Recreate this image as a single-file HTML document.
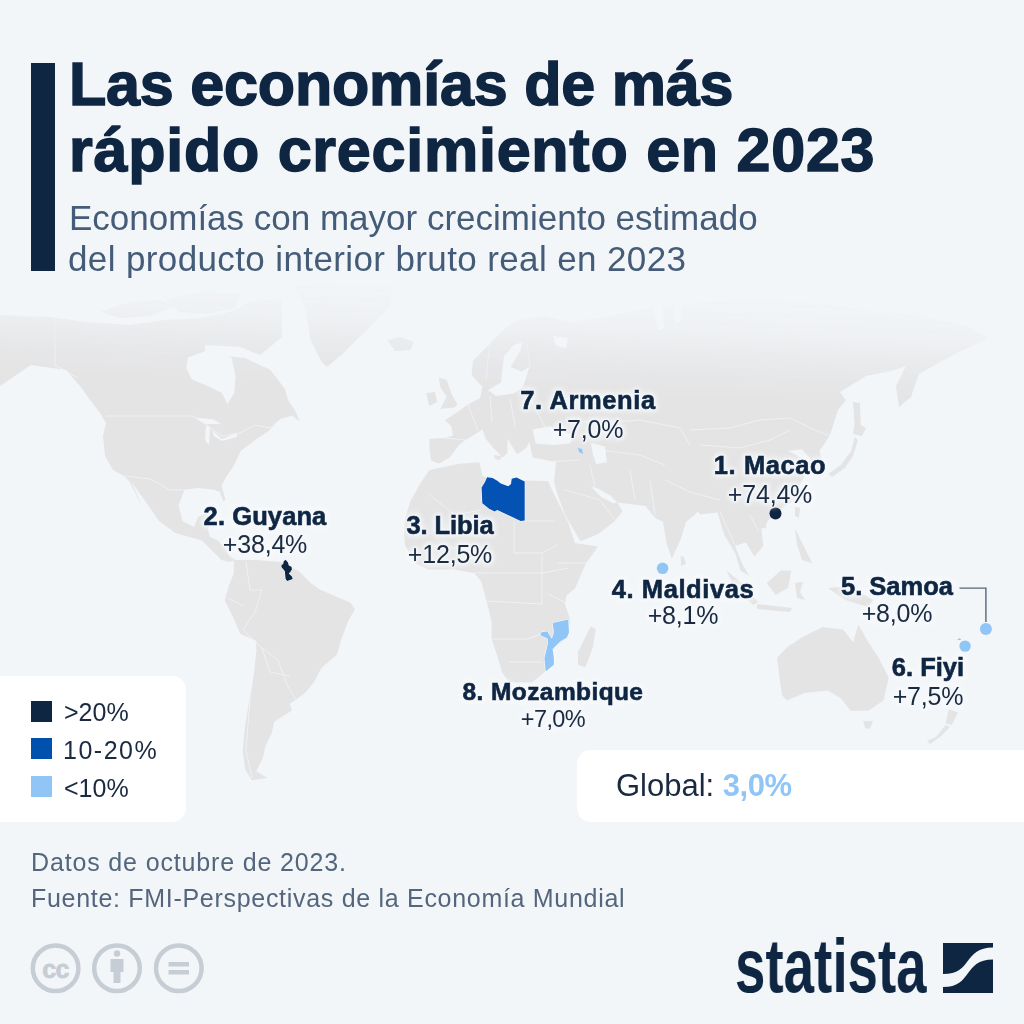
<!DOCTYPE html>
<html><head><meta charset="utf-8">
<style>
html,body{margin:0;padding:0}
body{width:1024px;height:1024px;overflow:hidden;background:#f3f6f9;position:relative;font-family:"Liberation Sans",sans-serif;-webkit-font-smoothing:antialiased}
.t{will-change:transform}
.t{position:absolute;white-space:nowrap;line-height:1}
.c{transform:translateX(-50%);text-align:center}
.title{font-weight:bold;font-size:61px;color:#0f2642;-webkit-text-stroke:1.5px #0f2642}
.sub{font-size:35px;color:#455c79}
.lb{font-weight:bold;font-size:25.5px;color:#0f2642;-webkit-text-stroke:0.6px #0f2642}
.pc{font-size:25px;color:#1a2a40}
.halo{text-shadow:0 0 2px #f3f6f9,0 0 2px #f3f6f9,0 0 3px #f3f6f9,0 0 3px #f3f6f9,0 0 5px #f3f6f9,0 0 5px #f3f6f9,0 0 7px #f3f6f9,0 0 9px #f3f6f9}
.lg{font-size:25px;color:#1a2a40}
.sq{position:absolute;left:31px;width:21px;height:21px}
.ft{font-size:25px;color:#54667e}
#map{position:absolute;left:0;top:0}
</style></head><body>
<svg id="map" width="1024" height="1024" viewBox="0 0 1024 1024">
<defs>
<linearGradient id="fade" x1="560" y1="288" x2="556" y2="393" gradientUnits="userSpaceOnUse">
<stop offset="0" stop-color="#fff" stop-opacity="0"/>
<stop offset="0.33" stop-color="#fff" stop-opacity="0.25"/>
<stop offset="0.57" stop-color="#fff" stop-opacity="0.6"/>
<stop offset="0.81" stop-color="#fff" stop-opacity="0.9"/>
<stop offset="1" stop-color="#fff" stop-opacity="1"/>
</linearGradient>
<mask id="m"><rect x="0" y="0" width="1024" height="1024" fill="url(#fade)"/></mask>
</defs>
<g mask="url(#m)" fill="#e4e4e5">
<path d="M0,315 L50,317 L85,322 L130,325 L165,320 L200,318 L230,312 L250,302 L282,298 L282,337 L259,356 L265,363 L285,389 L288,400 L295.8,411.7 L299.7,421.5 L291.9,415.6 L280,419.5 L268.4,431.25 L256.7,439 L241,450.8 L233.3,466.4 L225.5,478 L221.6,486 L225.5,499.6 L223.5,501.6 L219.6,491.8 L213.75,489.8 L198,488 L184.5,489.8 L178.6,505.5 L182.5,521 L194.2,527 L198,517 L206,513.3 L211.8,517 L207.9,529 L209.8,536.7 L217.7,540.6 L225.5,548.4 L229.4,556 L235.2,560 L229.4,562 L221.6,560 L213.75,552.3 L202,540.6 L188.4,536.7 L174.7,532.8 L159,521 L145.4,501.6 L131.7,482 L143.4,509.4 L129.8,482 L124,476 L113,470 L105,456 L103,436 L106,423 L100,413 L90,400 L80,386 L66,370 L31,365 L0,386Z"/>
<path d="M100,312 L130,302 L160,300 L175,306 L150,316 L120,318Z"/>
<path d="M165,300 L200,292 L240,294 L235,308 L205,314 L180,312Z"/>
<path d="M294,285 L392.5,285 L389.8,307 L370.6,326 L343,353.4 L327,367 L321.4,361.6 L310.5,339.7 L305,307Z"/>
<path d="M387,340 L400,337 L414,342 L410,350 L395,351Z"/>
<path d="M233.7,560 L256,560 L281,562 L299,571 L310,582.5 L319,589 L334.8,596 L350.6,602.7 L355,609.4 L348.3,620.7 L341.6,638.7 L337,654.4 L321.3,667.9 L314.6,681.3 L305.6,692.6 L296.6,699.3 L289.9,703.8 L292,710.6 L281,717.3 L274.2,721.8 L271.9,733 L265.2,746.5 L263,757.8 L256.2,771.2 L267.4,778 L251.7,780.2 L245,769 L242.7,751 L245,726.3 L249.4,699.3 L254,672.4 L256.2,650 L256.2,640.9 L240.4,634 L231.5,614 L224.7,600.4 L229.2,584.7 L233.7,573.5Z"/>
<path d="M431,460.6 L429.4,448 L429.4,438.75 L445,438 L452.8,435.6 L451.25,426.25 L445,420 L457.5,412 L467,405 L480,398 L482.5,387 L477,381 L471.6,374.7 L473,360.6 L485.6,348 L498,335.6 L507.5,326.3 L520,320 L545,316 L570,322 L600,318 L640,310 L700,303 L764,298 L815,303 L866,310 L916,315 L967,326 L988,338 L972,346 L957,353 L942,361 L919,374 L911,397 L899,407 L896,386 L906,366 L891,371 L866,376 L840,392 L846,400 L838,410 L830,435 L826.6,440.5 L819.5,451 L823,465 L819.5,474 L812.5,461.6 L802,449.3 L788,451 L795,454.6 L805.5,460 L807.2,470.4 L798.4,488 L795,500.3 L782.6,507.3 L773.8,514.4 L761.5,528.4 L763.3,546 L754.5,556.6 L745.7,542.5 L735,546 L742.2,563.6 L749.2,576 L740.4,570.6 L735.2,553 L724.6,535.5 L721,525 L717.6,512.6 L700,514.4 L698.2,511.4 L686,522 L680.6,539.5 L671.8,558.9 L666.6,543 L663,522 L656,518.4 L652.5,515 L645.5,506 L617.3,502.6 L622.6,511.4 L613.8,522 L598,534.3 L580.4,541.3 L565,515 L556,490 L554,481.5 L556,462 L532.5,457.5 L529.4,442 L526.25,448 L516.9,454.4 L507.5,438.75 L507.5,452.8 L502.8,457.5 L493.4,448 L485.6,438.75 L482.5,429.4 L465.3,440.3 L459,445 L449.7,457.5 L438.75,463.75Z"/>
<path d="M438.75,377.8 L446.6,379.4 L451.25,393.4 L457.5,404.4 L454.4,407.5 L440.3,409 L446.6,396.6 L440.3,387Z"/>
<path d="M426.25,393 L435,391.9 L437.2,402 L429,406Z"/>
<path d="M494,455 L502,456 L500,460 L495,459Z"/>
<path d="M429.4,470 L459,463.75 L479.4,462.2 L482.5,476 L499,483 L510,487 L512,479 L525,480.5 L548,481 L552,490 L568,522 L575,543 L598,546.6 L585.7,564 L575,588.6 L566.4,595.8 L565,604 L570,619 L568,637 L555,647 L547,662 L545,672 L532,682.5 L509,682.5 L502,672 L497,655 L491.6,639 L491.6,621.6 L486.5,601 L481,581 L474,573 L453.5,569.5 L428,569.5 L415,563 L405,545 L404,534 L405,518.5 L410.5,501 L420.6,483Z"/>
<path d="M578,652 L590.6,626.6 L595.7,629 L593,647 L585.5,667.3 L578,664.7Z"/>
<path d="M680.6,556 L684,557 L686,564 L681,566Z"/>
<path d="M726.4,570.6 L744,584.7 L758,602.3 L753,605 L735,588Z"/>
<path d="M766.8,583 L780.9,570.6 L791.4,570.6 L788,588 L775.6,595Z"/>
<path d="M757,604 L792,608 L790,612 L757,609Z"/>
<path d="M795,583 L803,582 L800,592 L805,600 L797,598Z"/>
<path d="M795,528.4 L800.2,539 L809,556.6 L812.5,563.6 L802,560 L797,545Z"/>
<path d="M828,588 L850,586 L873,600 L868,607 L845,600Z"/>
<path d="M828.3,474 L840.6,465 L851.2,451 L854.7,437 L858,440 L853,456 L845,468 L832,477Z"/>
<path d="M855,422 L866,428 L862,436 L853,434Z"/>
<path d="M795,507 L800,508 L799,518 L795,516Z"/>
<path d="M761.5,521 L766.8,521 L766,528.4 L762,528Z"/>
<path d="M853,402 L860,403 L861,432 L855,430Z"/>
<path d="M777,657.4 L787.1,647.3 L802.4,637.1 L822.7,627 L843,629.5 L853.2,642.2 L858.2,624.4 L868.4,642.2 L878.5,657.4 L888.7,677.8 L883.6,700.6 L868.4,710.8 L850.6,710.8 L840.5,698 L827.8,690.4 L804.9,693 L787.1,700.6 L782,695.5 L779.5,677.8Z"/>
<path d="M863,721 L873,721 L870,729 L865,728Z"/>
<path d="M948.7,709.3 L958,712.4 L951.8,725 L945.6,723.4Z"/>
<path d="M945.6,725 L936,737 L927,741 L930,744 L940,737 L950,727Z"/>
</g>
<g fill="#f3f6f9">
<path d="M205,345 L240,347 L260,355 L280,352 L286,360 L276,372 L262,366 L245,358 L225,356 L205,352Z"/>
<path d="M187.8,357.4 L211,349.2 L231.5,357.4 L235.6,376.6 L234.3,393 L227.4,404 L222,393 L211,387.5 L191.9,379.3 L186.4,368.4Z"/>
<path d="M532.5,429.4 L549.7,426.25 L573,435.6 L570,443.4 L554.4,445 L535.6,443.4Z"/>
<path d="M591,442.9 L605,446.4 L606.8,462.2 L596.2,464 L592.7,453.4Z"/>
<path d="M488,390 L501,382.5 L504,356 L513.75,345 L523,342 L520,351 L510.6,367 L521.6,371.6 L529.4,367 L523,387 L513.75,393.4 L496,396Z"/>
<path d="M652,300 L662,301 L664,328 L658,331 L655,315Z"/>
<path d="M674,301 L682,302 L680,322 L675,323Z"/>
<path d="M553,336 L568,338 L566,348 L556,346Z"/>
<path d="M591,486.8 L598,488.5 L610.3,495.6 L617,502 L613.8,503.5 L601.5,497.3Z"/>
<path d="M194.2,417.6 L213.75,419.5 L221,424 L206,424Z"/>
<path d="M206,426 L210,427 L209,445 L205,440Z"/>
<path d="M212,430 L221.6,439 L237,433 L237,437 L222,441 L214,436Z"/>
</g>
<g fill="none" stroke="#f3f5f8" stroke-width="0.9" stroke-opacity="0.85" mask="url(#m)">
<path d="M106,416 L193,416 L205,424 L222,436 L240,433 L255,425 L270,428 L282,418"/>
<path d="M55,312 L55,365 L78,378"/>
<path d="M125,476 L150,479 L170,490 L184,490"/>
<path d="M262,590 L255,612 L243,630 L262,648 L278,660 L287,685 L296,700"/>
<path d="M256,650 L250,700 L246,750 L252,778"/>
<path d="M246,562 L250,590 L262,590"/>
<path d="M228,598 L243,606"/>
<path d="M262,648 L270,672 L290,676"/>
<path d="M423,545 L474,550"/>
<path d="M430,495 L455,515 L481,510"/>
<path d="M514,521 L514,553 L542,553 L557.6,545"/>
<path d="M473.8,573 L542,573 L568,568"/>
<path d="M542,553 L542,604"/>
<path d="M486.5,601 L542,604"/>
<path d="M491.6,639 L527,639 L542,634"/>
<path d="M509,662 L542,662"/>
<path d="M557.6,563 L590.6,563"/>
<path d="M547.4,593.6 L567.8,603.8"/>
<path d="M525,521 L555,521"/>
<path d="M445,438 L465,440"/>
<path d="M468,405 L478,430"/>
<path d="M490,396 L492,422"/>
<path d="M510,398 L515,426"/>
<path d="M530,398 L545,427"/>
<path d="M525,325 L530,367"/>
<path d="M490,340 L486,380"/>
<path d="M565,420 L600,423 L640,420 L680,428 L690,445"/>
<path d="M690,430 L730,428 L760,420 L790,418 L815,430 L830,436"/>
<path d="M700,445 L740,448 L770,440 L790,430"/>
<path d="M600,450 L640,455 L665,465"/>
<path d="M665,480 L690,492 L720,500"/>
<path d="M630,470 L635,500"/>
<path d="M650,480 L655,515"/>
<path d="M565,490 L600,500 L615,520"/>
<path d="M590,465 L595,487"/>
<path d="M545,462 L580,460"/>
<path d="M720,512 L735,545"/>
<path d="M750,515 L758,530"/>
</g>
<path d="M487.1,477.3 L492.6,478 L497.3,480.7 L500.8,483.5 L508.3,486.2 L511,484.1 L511.7,478.7 L516.5,477.6 L524.7,481.4 L524.7,520.4 L520.6,521 L497.3,510.1 L494.6,511.5 L489.1,508.7 L482.3,503.3 L481.6,487.6 L485,482Z" fill="#0452b3" stroke="#fff" stroke-width="1" paint-order="stroke"/>
<path d="M552.6,623 L568.3,619.6 L569,632.6 L566.9,637.4 L560.1,641.5 L552.6,649 L553.9,657.9 L553.9,664.7 L547.1,670.2 L545.7,671.6 L544.4,657.9 L547.8,644.2 L547.8,638.7 L540.3,635.3 L541,632.6 L547.1,631.2 L551.9,638.7 L553.9,632.6Z" fill="#90c5f6" stroke="#fff" stroke-width="1" paint-order="stroke"/>
<path d="M285.6,559.8 L288,562.5 L288.75,565.6 L291.5,566.8 L291.9,569.5 L290.3,571.9 L288.75,573.4 L291.9,576.6 L292.7,578.9 L287.2,580.9 L285.6,578.9 L285.2,575 L284.8,571.1 L281.7,567.6 L281.3,565.6 L283.3,563.7 L283.7,561.3Z" fill="#0f2642" stroke="#fff" stroke-width="1" paint-order="stroke"/>
<path d="M578,448 L582,449 L583,454 L579,452Z" fill="#90c5f6"/>
<circle cx="775.5" cy="513.5" r="6" fill="#0f2642"/>
<circle cx="662.6" cy="568.3" r="5.8" fill="#90c5f6"/>
<circle cx="985.9" cy="629" r="6" fill="#90c5f6"/>
<circle cx="965.1" cy="646.1" r="5.7" fill="#90c5f6"/>
<path d="M957,640 l3,-2 l1,2 z M960,644 l2,-1 l1,2 z" fill="#90c5f6"/>
<path d="M959.5,588.1 H985.9 V622" fill="none" stroke="#56677a" stroke-width="1.4"/>
</svg>

<div style="position:absolute;left:31px;top:63px;width:24px;height:208px;background:#0f2642"></div>
<div class="t title" style="left:69.3px;top:54.4px;letter-spacing:-0.18px">Las economías de más</div>
<div class="t title" style="left:69.3px;top:120.4px;letter-spacing:0.76px">rápido crecimiento en 2023</div>
<div class="t sub" style="left:68.6px;top:200.4px">Economías con mayor crecimiento estimado</div>
<div class="t sub" style="left:68.3px;top:241.2px;letter-spacing:0.38px">del producto interior bruto real en 2023</div>

<div class="t c lb halo" style="left:588px;top:388.4px;font-size:25.5px;letter-spacing:0.6px">7. Armenia</div>
<div class="t c pc halo" style="left:588px;top:417.0px;font-size:25px;letter-spacing:-0.2px">+7,0%</div>
<div class="t c lb halo" style="left:769.5px;top:453.2px;font-size:25.5px;letter-spacing:0.6px">1. Macao</div>
<div class="t c pc halo" style="left:769.5px;top:481.9px;font-size:25px;letter-spacing:-0.2px">+74,4%</div>
<div class="t c lb halo" style="left:264.6px;top:504.0px;font-size:25.5px;letter-spacing:0.1px">2. Guyana</div>
<div class="t c pc halo" style="left:264.6px;top:531.5px;font-size:25px;letter-spacing:-0.2px">+38,4%</div>
<div class="t c lb halo" style="left:449.7px;top:513.3px;font-size:25.5px;letter-spacing:-0.1px">3. Libia</div>
<div class="t c pc halo" style="left:449.7px;top:541.5px;font-size:25px;letter-spacing:-0.2px">+12,5%</div>
<div class="t c lb halo" style="left:683px;top:576.5px;font-size:25.5px;letter-spacing:0.6px">4. Maldivas</div>
<div class="t c pc halo" style="left:683px;top:603.2px;font-size:25px;letter-spacing:-0.2px">+8,1%</div>
<div class="t c lb halo" style="left:897.4px;top:573.6px;font-size:25.5px;letter-spacing:0px">5. Samoa</div>
<div class="t c pc halo" style="left:897.4px;top:601.2px;font-size:25px;letter-spacing:-0.2px">+8,0%</div>
<div class="t c lb halo" style="left:927.8px;top:655.3px;font-size:25.5px;letter-spacing:0px">6. Fiyi</div>
<div class="t c pc halo" style="left:927.8px;top:683.8px;font-size:25px;letter-spacing:-0.2px">+7,5%</div>
<div class="t c lb halo" style="left:553px;top:679.7px;font-size:24.5px;letter-spacing:0.4px">8. Mozambique</div>
<div class="t c pc halo" style="left:553px;top:707.7px;font-size:23.5px;letter-spacing:-0.6px">+7,0%</div>


<div style="position:absolute;left:-20px;top:676px;width:206px;height:146px;background:#ffffff;border-radius:14px"></div>
<div class="sq" style="top:700.5px;background:#0f2642"></div>
<div class="sq" style="top:738.3px;background:#0050ad"></div>
<div class="sq" style="top:776.3px;background:#90c5f6"></div>
<div class="t lg" style="left:63.5px;top:700.3px">&gt;20%</div>
<div class="t lg" style="left:62.5px;top:738.4px;letter-spacing:1.5px">10-20%</div>
<div class="t lg" style="left:63.5px;top:775.5px">&lt;10%</div>

<div style="position:absolute;left:577px;top:750px;width:480px;height:72px;background:#ffffff;border-radius:14px"></div>
<div class="t" style="left:615.5px;top:770px;font-size:31px;color:#1a2a40">Global: <b style="color:#90c5f6;letter-spacing:-0.5px">3,0%</b></div>

<div class="t ft" style="left:30.8px;top:849.6px;letter-spacing:0.85px">Datos de octubre de 2023.</div>
<div class="t ft" style="left:30.8px;top:885.5px;letter-spacing:0.7px">Fuente: FMI-Perspectivas de la Economía Mundial</div>

<svg style="position:absolute;left:0;top:930px" width="240" height="80" viewBox="0 930 240 80">
<g fill="none" stroke="#c6cdd5" stroke-width="4.5">
<circle cx="55.6" cy="968.2" r="22.8"/>
<circle cx="117" cy="968.2" r="22.8"/>
<circle cx="178.8" cy="968.2" r="22.8"/>
</g>
<text x="55.6" y="977.5" text-anchor="middle" font-family="Liberation Sans" font-weight="bold" font-size="25" fill="#c6cdd5" stroke="#c6cdd5" stroke-width="0.8" letter-spacing="-0.5">cc</text>
<g fill="#c6cdd5">
<circle cx="117" cy="953.5" r="3.2"/>
<rect x="110.5" y="959" width="13" height="13"/>
<rect x="113.5" y="970" width="7" height="13"/>
<rect x="168.5" y="962" width="20.5" height="4.5"/>
<rect x="168.5" y="970" width="20.5" height="4.5"/>
</g>
</svg>

<div class="t" style="left:735px;top:928px;font-size:76px;font-weight:bold;color:#0f2642;transform-origin:0 0;transform:scaleX(0.72)">statista</div>
<svg style="position:absolute;left:943px;top:943px" width="50" height="50" viewBox="0 0 50 50">
<path d="M0,0 H50 V4.4 C20,4.4 30,31 0,31 Z" fill="#0f2642"/>
<path d="M50,50 H0 V44 C30,44 20,16.4 50,16.4 Z" fill="#0f2642"/>
</svg>
</body></html>
